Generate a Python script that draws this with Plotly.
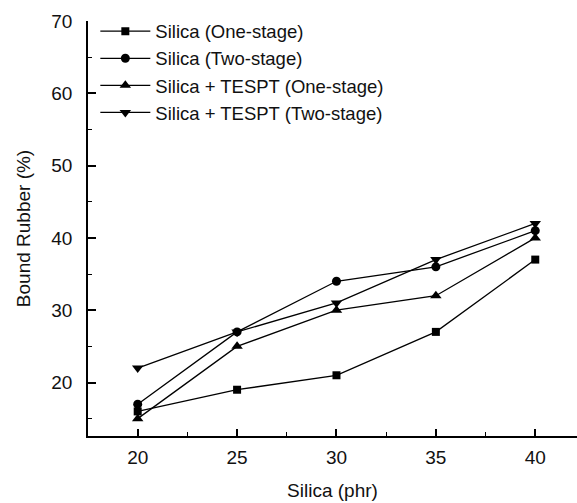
import plotly.graph_objects as go

silica_phr = [20, 25, 30, 35, 40]
series_names = ["Silica (One-stage)", "Silica (Two-stage)",
                "Silica + TESPT (One-stage)", "Silica + TESPT (Two-stage)"]
one_stage = [16, 19, 21, 27, 37]
two_stage = [17, 27, 34, 36, 41]
tespt_one = [15, 25, 30, 32, 40]
tespt_two = [22, 27, 31, 37, 42]
symbols = ["square", "circle", "triangle-up", "triangle-down"]
marker_sizes = [8, 9, 10, 10]

fig = go.Figure()
for name, vals, sym, ms in zip(series_names, [one_stage, two_stage, tespt_one, tespt_two],
                               symbols, marker_sizes):
    fig.add_trace(go.Scatter(
        x=silica_phr, y=vals, name=name, mode="lines+markers",
        line=dict(color="black", width=1.3),
        marker=dict(symbol=sym, size=ms, color="black"),
    ))

font = dict(family="Liberation Sans, Arial, sans-serif", size=19, color="#111")
fig.update_layout(
    width=577, height=503,
    paper_bgcolor="white", plot_bgcolor="white",
    margin=dict(l=88, r=0, t=21, b=67),
    font=font,
    showlegend=True,
    legend=dict(x=0.015, y=1.02, xanchor="left", yanchor="top",
                bgcolor="rgba(0,0,0,0)", font=dict(size=18.5),
                itemwidth=50, tracegroupgap=0),
    xaxis=dict(range=[17.5, 42.1], tickvals=[20, 25, 30, 35, 40],
               showgrid=False, zeroline=False, showline=True,
               linecolor="black", linewidth=1.5, ticks="inside",
               ticklen=7, tickcolor="black", tickwidth=1.5,
               ticklabelstandoff=3,
               minor=dict(dtick=2.5, tick0=17.5, ticks="inside", ticklen=4,
                          tickcolor="black", tickwidth=1),
               title=dict(text="Silica (phr)", font=dict(size=19), standoff=17)),
    yaxis=dict(range=[12.6, 70], tickvals=[20, 30, 40, 50, 60, 70],
               showgrid=False, zeroline=False, showline=True,
               linecolor="black", linewidth=1.5, ticks="inside",
               ticklen=8, tickcolor="black", tickwidth=1.5,
               ticklabelstandoff=10,
               minor=dict(dtick=5, tick0=0, ticks="inside", ticklen=4,
                          tickcolor="black", tickwidth=1),
               title=dict(text="Bound Rubber (%)", font=dict(size=19), standoff=16)),
)
fig.write_html("out.html", config={"displayModeBar": False},
               post_script="document.body.style.margin='0';")
